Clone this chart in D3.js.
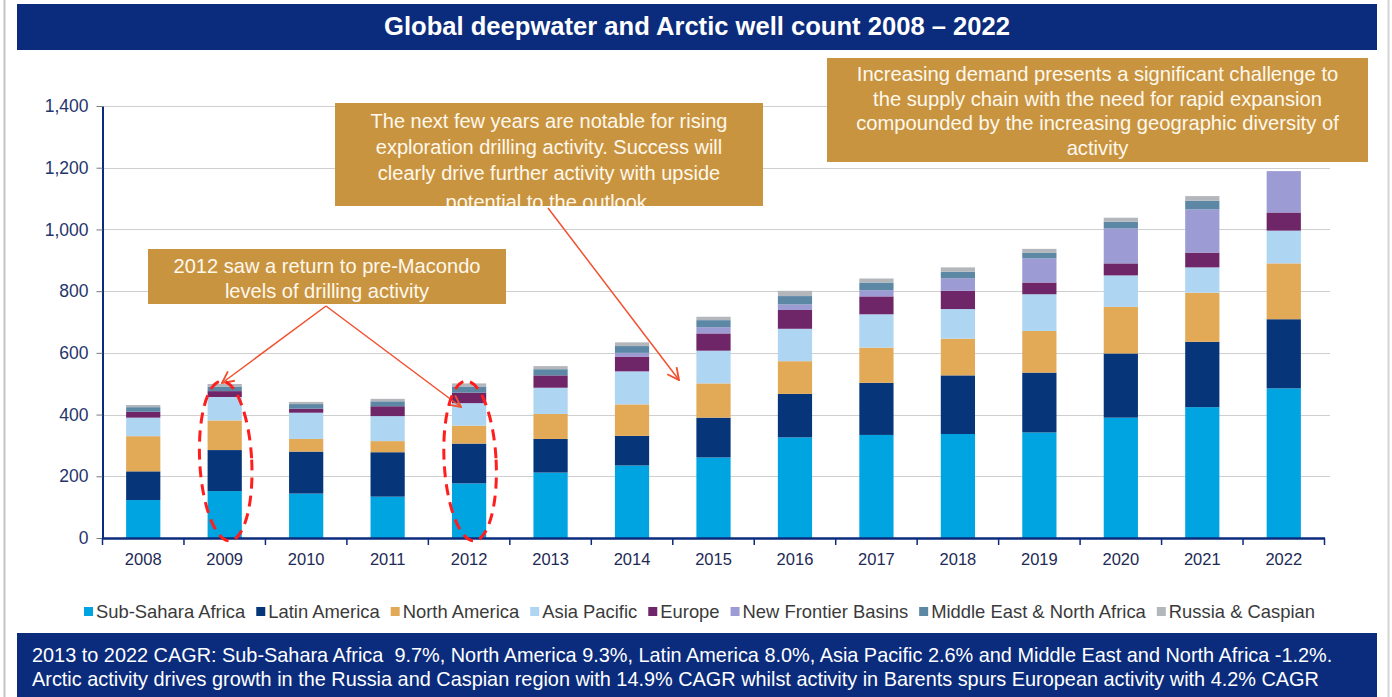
<!DOCTYPE html>
<html>
<head>
<meta charset="utf-8">
<script src="https://cdn.jsdelivr.net/npm/d3@7"></script>
<style>
  html, body { margin: 0; padding: 0; background: #ffffff; }
  svg { display: block; font-family: "Liberation Sans", Arial, sans-serif; }
  .keep-spaces { white-space: pre; }
</style>
</head>
<body>
<svg id="chart" width="1392" height="697"></svg>
<script>
// Years on the category axis
const years = ["2008","2009","2010","2011","2012","2013","2014","2015","2016","2017","2018","2019","2020","2021","2022"];

// Regions, bottom of stack first
const regionNames = ["Sub-Sahara Africa","Latin America","North America","Asia Pacific","Europe","New Frontier Basins","Middle East & North Africa","Russia & Caspian"];

// Deepwater and Arctic well counts per region
const subSaharaAfrica       = [123,152,144,134,177,212,235,261,326,334,337,342,390,424,485];
const latinAmerica          = [ 93,133,136,144,129,109, 96,129,141,169,190,194,208,212,224];
const northAmerica          = [114, 96, 41, 36, 58, 81,102,111,106,114,119,135,151,159,181];
const asiaPacific           = [ 60, 76, 85, 81, 73, 85,107,106,105,108, 96,119,102, 82,106];
const europe                = [ 19, 19, 13, 32, 34, 40, 48, 56, 61, 58, 59, 38, 39, 48, 59];
const newFrontierBasins     = [  0,  0,  0,  0,  0,  0, 12, 20, 18, 20, 41, 78,113,140,134];
const middleEastNorthAfrica = [ 15, 15, 15, 16, 20, 20, 22, 23, 27, 25, 21, 19, 22, 28,  0];
const russiaCaspian         = [  7,  8,  7,  8, 10, 10, 12, 11, 17, 13, 14, 12, 13, 15,  0];

// Y axis ticks
const yTicks = [0,200,400,600,800,1000,1200,1400];

// Text blocks
const titleText = "Global deepwater and Arctic well count 2008 \u2013 2022";
const noteMacondo = ["2012 saw a return to pre-Macondo", "levels of drilling activity"];
const noteExploration = ["The next few years are notable for rising", "exploration drilling activity. Success will", "clearly drive further activity with upside", "potential to the outlook."];
const noteDemand = ["Increasing demand presents a significant challenge to", "the supply chain with the need for rapid expansion", "compounded by the increasing geographic diversity of", "activity"];
const footerLines = [
  "2013 to 2022 CAGR: Sub-Sahara Africa  9.7%, North America 9.3%, Latin America 8.0%, Asia Pacific 2.6% and Middle East and North Africa -1.2%.",
  "Arctic activity drives growth in the Russia and Caspian region with 14.9% CAGR whilst activity in Barents spurs European activity with 4.2% CAGR"
];

const seriesValues = [subSaharaAfrica, latinAmerica, northAmerica, asiaPacific, europe, newFrontierBasins, middleEastNorthAfrica, russiaCaspian];
const colors = ["#00a4e0","#06357a","#e2a957","#aed5f1","#6e2668","#9c9bd3","#5c87a5","#b3b6ba"];

const rows = years.map((yr, i) => {
  const r = { year: yr };
  regionNames.forEach((n, k) => { r[n] = seriesValues[k][i]; });
  return r;
});

const svg = d3.select("#chart");
const NAVY = "#0b2c7d";
const GOLD = "#c99440";

// fit a text element's font size so its width equals the target
function fitWidth(sel, target) {
  const node = sel.node();
  const fs = parseFloat(sel.attr("font-size"));
  const w = node.getComputedTextLength();
  if (w > 0) sel.attr("font-size", (fs * target / w).toFixed(2));
}

// slide frame
svg.append("line").attr("x1", 4.5).attr("x2", 4.5).attr("y1", 0).attr("y2", 697).attr("stroke", "#c4c4c4").attr("stroke-width", 2);
svg.append("line").attr("x1", 1388.5).attr("x2", 1388.5).attr("y1", 0).attr("y2", 697).attr("stroke", "#d4d4d4").attr("stroke-width", 2);

// title banner
svg.append("rect").attr("x", 17).attr("y", 4).attr("width", 1360).attr("height", 46).attr("fill", NAVY);
const title = svg.append("text").attr("x", 697).attr("y", 35).attr("text-anchor", "middle")
  .attr("fill", "#ffffff").attr("font-weight", "bold").attr("font-size", 21).text(titleText);
fitWidth(title, 626);

// scales
const x = d3.scaleBand().domain(years).range([102.5, 1324.5]).paddingInner(0.58).paddingOuter(0.29);
const y = d3.scaleLinear().domain([0, 1400]).range([538, 106]);

// gridlines
svg.append("g").selectAll("line").data(yTicks.filter(t => t > 0)).join("line")
  .attr("x1", 103).attr("x2", 1330)
  .attr("y1", d => Math.round(y(d)) + 0.5).attr("y2", d => Math.round(y(d)) + 0.5)
  .attr("stroke", "#cfcfcf").attr("stroke-width", 1);

// stacked bars
const stacked = d3.stack().keys(regionNames)(rows);
svg.append("g").selectAll("g").data(stacked).join("g")
  .attr("fill", (d, i) => colors[i])
  .selectAll("rect").data(d => d).join("rect")
  .attr("x", d => x(d.data.year))
  .attr("width", x.bandwidth())
  .attr("y", d => y(d[1]))
  .attr("height", d => Math.max(0, y(d[0]) - y(d[1])));

// y axis
const yAxis = svg.append("g").attr("transform", "translate(102.5,0)")
  .call(d3.axisLeft(y).tickValues(yTicks).tickFormat(d3.format(",")).tickSize(6).tickSizeOuter(0).tickPadding(8));
yAxis.select(".domain").attr("stroke", NAVY).attr("stroke-width", 2);
yAxis.selectAll(".tick line").attr("stroke", "#7a7a7a");
yAxis.selectAll(".tick text").attr("fill", "#24356b").attr("font-size", 17.5)
  .attr("font-family", "Liberation Sans, Arial, sans-serif");

// x axis
const xAxis = svg.append("g").attr("transform", "translate(0,538)")
  .call(d3.axisBottom(x).tickSize(0).tickPadding(15));
xAxis.select(".domain").attr("stroke", NAVY).attr("stroke-width", 2.5);
xAxis.selectAll(".tick text").attr("fill", "#1d2a55").attr("font-size", 16.5)
  .attr("font-family", "Liberation Sans, Arial, sans-serif");
// boundary ticks between categories
const step = x.step();
svg.append("g").selectAll("line").data(d3.range(years.length + 1)).join("line")
  .attr("x1", i => x.range()[0] + i * step).attr("x2", i => x.range()[0] + i * step)
  .attr("y1", 538).attr("y2", 545).attr("stroke", NAVY).attr("stroke-width", 1.5);

// legend
const legend = svg.append("g").attr("transform", "translate(84,612)");
let lx = 0;
const legendItems = [];
regionNames.forEach((name, i) => {
  const g = legend.append("g");
  g.append("rect").attr("x", 0).attr("y", -5).attr("width", 9).attr("height", 9).attr("fill", colors[i]);
  const t = g.append("text").attr("x", 12).attr("y", 0).attr("dy", "0.35em")
    .attr("font-size", 16).attr("fill", "#3a3a3a").text(name);
  legendItems.push({ g, t });
});
// lay out and scale to the legend width
function layoutLegend(fs) {
  lx = 0;
  legendItems.forEach(({ g, t }) => {
    t.attr("font-size", fs);
    g.attr("transform", `translate(${lx},0)`);
    lx += 12 + t.node().getComputedTextLength() + 11;
  });
  return lx - 11;
}
let legendW = layoutLegend(16);
layoutLegend(16 * (1230 - 8 * 23) / (legendW - 8 * 23));

// footer banner
svg.append("rect").attr("x", 17).attr("y", 633).attr("width", 1360).attr("height", 64).attr("fill", NAVY);
const f1 = svg.append("text").attr("class", "keep-spaces").attr("x", 32).attr("y", 662).attr("fill", "#ffffff").attr("font-size", 17).text(footerLines[0]);
fitWidth(f1, 1301);
const f2 = svg.append("text").attr("x", 32).attr("y", 686).attr("fill", "#ffffff").attr("font-size", f1.attr("font-size")).text(footerLines[1]);

// callout boxes
const defs = svg.append("defs");
function callout(id, bx, by, bw, bh, lines, baselines, widestTarget) {
  defs.append("clipPath").attr("id", id).append("rect").attr("x", bx).attr("y", by).attr("width", bw).attr("height", bh);
  const g = svg.append("g").attr("clip-path", `url(#${id})`);
  g.append("rect").attr("x", bx).attr("y", by).attr("width", bw).attr("height", bh).attr("fill", GOLD);
  const cx = bx + bw / 2;
  const texts = lines.map((ln, i) => g.append("text").attr("x", cx).attr("y", baselines[i])
    .attr("text-anchor", "middle").attr("fill", "#fff8ec").attr("font-size", 17).text(ln));
  const t0 = texts[0];
  fitWidth(t0, widestTarget);
  texts.forEach(t => t.attr("font-size", t0.attr("font-size")));
}
callout("clipMacondo", 148, 249, 358, 55, noteMacondo, [273, 298], 307);
callout("clipExploration", 335, 103, 428, 103, noteExploration, [128, 154, 180, 209], 357);
callout("clipDemand", 827, 58, 541, 104, noteDemand, [81, 106, 130, 155], 482);

// arrows
const RED = "#f2502f";
defs.append("marker").attr("id", "arrowHead").attr("viewBox", "0 0 12 12").attr("refX", 11).attr("refY", 6)
  .attr("markerWidth", 14).attr("markerHeight", 14).attr("markerUnits", "userSpaceOnUse").attr("orient", "auto")
  .append("path").attr("d", "M1,1 L11,6 L1,11").attr("fill", "none").attr("stroke", RED).attr("stroke-width", 1.6);
const arrows = [
  { from: [326, 306], to: [222, 383] },
  { from: [326, 306], to: [461, 407] },
  { from: [548, 208], to: [679, 380] }
];
svg.append("g").selectAll("line").data(arrows).join("line")
  .attr("x1", d => d.from[0]).attr("y1", d => d.from[1])
  .attr("x2", d => d.to[0]).attr("y2", d => d.to[1])
  .attr("stroke", RED).attr("stroke-width", 1.5).attr("marker-end", "url(#arrowHead)");

// dashed highlight rings around 2009 and 2012
const ringYears = ["2009", "2012"];
svg.append("g").selectAll("ellipse").data(ringYears).join("ellipse")
  .attr("cx", d => x(d) + x.bandwidth() / 2 + 1)
  .attr("cy", 461).attr("rx", 26).attr("ry", 80)
  .attr("transform", d => `rotate(-3,${x(d) + x.bandwidth() / 2},461)`)
  .attr("fill", "none").attr("stroke", "#ff1e1e").attr("stroke-width", 3).attr("stroke-dasharray", "11 7");
</script>
</body>
</html>
